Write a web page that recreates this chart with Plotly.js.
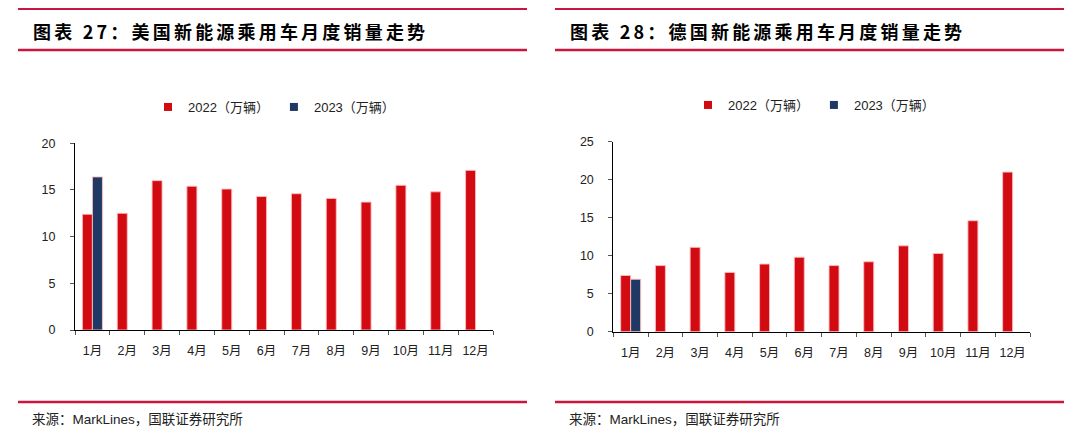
<!DOCTYPE html>
<html>
<head>
<meta charset="utf-8">
<script src="https://cdn.plot.ly/plotly-3.0.1.min.js"></script>
<style>
html,body{margin:0;padding:0;background:#fff;}
#chart{width:1080px;height:437px;}
.titletxt{letter-spacing:3.2px;}
</style>
</head>
<body>
<div id="chart"></div>
<script>
const months = ['1月','2月','3月','4月','5月','6月','7月','8月','9月','10月','11月','12月'];
const us2022 = [12.4,12.5,16.0,15.4,15.1,14.3,14.6,14.1,13.7,15.5,14.8,17.1];
const us2023 = [16.4];
const de2022 = [7.4,8.7,11.1,7.8,8.9,9.8,8.7,9.2,11.3,10.3,14.6,21.0];
const de2023 = [6.9];
const seriesNames = ['2022（万辆）','2023（万辆）'];
const titles = ['图表 27：美国新能源乘用车月度销量走势','图表 28：德国新能源乘用车月度销量走势'];
const source = '来源：MarkLines，国联证券研究所';

const RED = '#D20A11', NAVY = '#1F3864', LINE = '#C8163C';
const W = 1080, H = 437;
const px = v => v / W, py = v => 1 - v / H;
const FONT = 'Liberation Sans, Arial, Noto Sans CJK SC, sans-serif';

function bar(x, y, color, xa, ya) {
  return {type:'bar', x:x, y:y, xaxis:xa, yaxis:ya, showlegend:false,
    marker:{color:color, line:{color:'rgba(255,190,190,0.9)', width:1}},
    hoverinfo:'x+y'};
}
function leg(name, color, lg) {
  return {type:'scatter', mode:'markers', x:[null], y:[null], name:name, legend:lg,
    marker:{symbol:'square', size:8, color:color}, hoverinfo:'skip'};
}

const data = [
  bar(months, us2022, RED, 'x', 'y'),
  bar(months.slice(0, us2023.length), us2023, NAVY, 'x', 'y'),
  bar(months, de2022, RED, 'x2', 'y2'),
  bar(months.slice(0, de2023.length), de2023, NAVY, 'x2', 'y2'),
  leg(seriesNames[0], RED, 'legend'),
  leg(seriesNames[1], NAVY, 'legend'),
  leg(seriesNames[0], RED, 'legend2'),
  leg(seriesNames[1], NAVY, 'legend2')
];

function xax(dom, anchor) {
  return {domain:dom, anchor:anchor, type:'category', categoryorder:'array', categoryarray:months,
    showline:true, linecolor:'#000', linewidth:1, ticks:'outside', tickson:'boundaries',
    ticklen:4, tickcolor:'#555', showgrid:false, zeroline:false, ticklabelstandoff:9, tickangle:0,
    tickfont:{family:FONT, size:12.5, color:'#222'}, fixedrange:true};
}
function yax(dom, anchor, max) {
  return {domain:dom, anchor:anchor, range:[0,max], dtick:5, showline:true, linecolor:'#000', linewidth:1,
    ticks:'outside', ticklen:4, tickcolor:'#555', showgrid:false, zeroline:false, ticklabelstandoff:12,
    tickfont:{family:FONT, size:12.5, color:'#222'}, fixedrange:true};
}
function hline(x0, x1, y, w) {
  return {type:'line', xref:'paper', yref:'paper', x0:px(x0), x1:px(x1), y0:py(y), y1:py(y),
    line:{color:LINE, width:w}};
}

const layout = {
  width:W, height:H, margin:{l:0,r:0,t:0,b:0}, paper_bgcolor:'#fff', plot_bgcolor:'#fff',
  barmode:'group', bargap:0.425, bargroupgap:0,
  xaxis: xax([px(75), px(493)], 'y'),
  yaxis: yax([py(330), py(143.3)], 'x', 20),
  xaxis2: xax([px(613.3), px(1030)], 'y2'),
  yaxis2: yax([py(331.7), py(141.7)], 'x2', 25),
  legend: {orientation:'h', x:px(148), xanchor:'left', y:py(107), yanchor:'middle',
    font:{family:FONT, size:13, color:'#222'}, bgcolor:'rgba(0,0,0,0)', itemwidth:30},
  legend2: {orientation:'h', x:px(688), xanchor:'left', y:py(105), yanchor:'middle',
    font:{family:FONT, size:13, color:'#222'}, bgcolor:'rgba(0,0,0,0)', itemwidth:30},
  shapes: [
    hline(18, 527, 9, 2), hline(18, 527, 50, 2.5), hline(18, 527, 402, 2.5),
    hline(555, 1064, 9, 2), hline(555, 1064, 50, 2.5), hline(555, 1064, 402, 2.5)
  ],
  annotations: [
    {text:'<b>'+titles[0]+'</b>', xref:'paper', yref:'paper', x:px(230), y:py(31), xanchor:'center', yanchor:'middle',
      showarrow:false, font:{family:'Noto Sans CJK SC, sans-serif', size:18, color:'#000'}},
    {text:'<b>'+titles[1]+'</b>', xref:'paper', yref:'paper', x:px(767), y:py(31), xanchor:'center', yanchor:'middle',
      showarrow:false, font:{family:'Noto Sans CJK SC, sans-serif', size:18, color:'#000'}},
    {text:source, xref:'paper', yref:'paper', x:px(30), y:py(419), xanchor:'left', yanchor:'middle',
      showarrow:false, font:{family:FONT, size:13.5, color:'#222'}},
    {text:source, xref:'paper', yref:'paper', x:px(567), y:py(419), xanchor:'left', yanchor:'middle',
      showarrow:false, font:{family:FONT, size:13.5, color:'#222'}}
  ]
};

Plotly.newPlot('chart', data, layout, {staticPlot:true}).then(function(){
  document.querySelectorAll('.annotation-text').forEach(function(t, i){
    if (i < 2) t.classList.add('titletxt');
  });
});
</script>
</body>
</html>
